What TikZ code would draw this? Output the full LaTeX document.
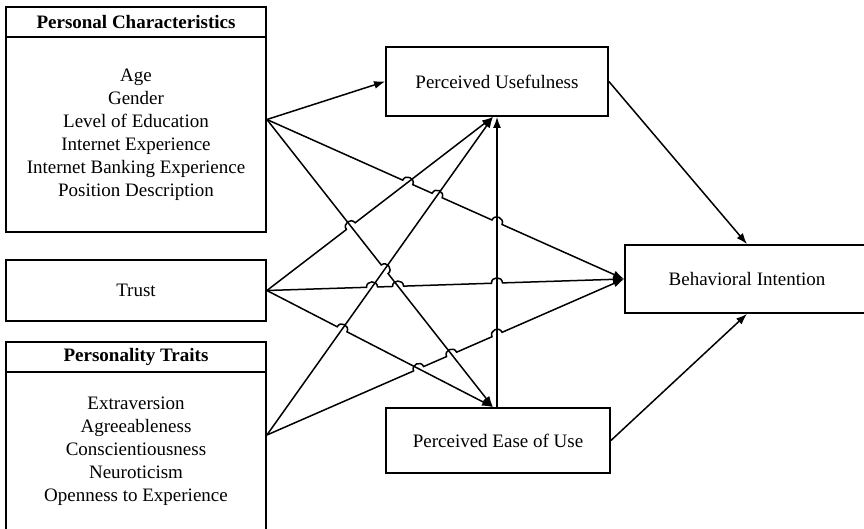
\documentclass[tikz,border=0pt]{standalone}
\usepackage{fontspec}
\setmainfont{Liberation Serif}
\usetikzlibrary{calc,arrows.meta}
\newcommand{\mkhop}[4]{%
  \coordinate (#1a) at ($(#2)!5.5pt!(#3)$);
  \coordinate (#1b) at ($(#2)!5.5pt!(#4)$);
  \coordinate (#1c) at ($(#1a)!7pt!90:(#1b)$);
  \coordinate (#1d) at ($(#1b)!7pt!-90:(#1a)$);
}
\begin{document}
\begin{tikzpicture}[x=1pt,y=-1pt,
  box/.style={draw, line width=1.8pt, inner sep=0pt, rectangle},
  txt/.style={font=\fontsize{19}{23}\selectfont, align=center, inner sep=0pt},
  ttl/.style={font=\fontsize{19}{23}\selectfont\bfseries, inner sep=0pt},
  conn/.style={line width=1.5pt, -{Latex[length=11pt,width=8pt]}},
]
\useasboundingbox (0,0) rectangle (864,529);
\clip (0,0) rectangle (864,529);

% left boxes
\node[box, minimum width=260pt, minimum height=225pt] (PC) at (136,119.5) {};
\node[box, ttl, minimum width=260pt, minimum height=30pt, anchor=north] (PCt) at (PC.north) {Personal Characteristics};
\node[txt] (PCb) at (136,135) {Age\\Gender\\Level of Education\\Internet Experience\\Internet Banking Experience\\Position Description};

\node[box, txt, minimum width=260pt, minimum height=61pt] (TR) at (136,290.5) {Trust};

\node[box, minimum width=260pt, minimum height=188pt] (PT) at (136,436) {};
\node[box, ttl, minimum width=260pt, minimum height=30pt, anchor=north] (PTt) at (PT.north) {Personality Traits};
\node[txt] (PTb) at (136,451.5) {Extraversion\\Agreeableness\\Conscientiousness\\Neuroticism\\Openness to Experience};

% middle and right boxes
\node[box, txt, minimum width=222pt, minimum height=69pt] (PU) at (497,81.5) {Perceived Usefulness};
\node[box, txt, minimum width=224pt, minimum height=65pt] (PE) at (498,440.5) {Perceived Ease of Use};
\node[box, txt, minimum width=244pt, minimum height=68pt] (BI) at (747,279) {Behavioral Intention};

% endpoints
\coordinate (pcS) at (PC.east);
\coordinate (trS) at (TR.east);
\coordinate (ptS) at ([yshift=1pt]PT.east);
\coordinate (puB) at ([xshift=-4pt]PU.south);
\coordinate (puS) at (PU.south);
\coordinate (peT) at ([xshift=-5pt]PE.north);
\coordinate (vB) at ([xshift=-1pt]PE.north);
\coordinate (biW) at (BI.west);

% crossings
\coordinate (x27) at (intersection of pcS--peT and ptS--puB);
\coordinate (x34) at (intersection of pcS--biW and trS--puB);
\coordinate (x37) at (intersection of pcS--biW and ptS--puB);
\coordinate (x3v) at (intersection of pcS--biW and vB--puS);
\coordinate (x42) at (intersection of trS--puB and pcS--peT);
\coordinate (x57) at (intersection of trS--biW and ptS--puB);
\coordinate (x52) at (intersection of trS--biW and pcS--peT);
\coordinate (x5v) at (intersection of trS--biW and vB--puS);
\coordinate (x67) at (intersection of trS--peT and ptS--puB);
\coordinate (x86) at (intersection of ptS--biW and trS--peT);
\coordinate (x82) at (intersection of ptS--biW and pcS--peT);
\coordinate (x8v) at (intersection of ptS--biW and vB--puS);

\mkhop{h27}{x27}{pcS}{peT}
\mkhop{h34}{x34}{pcS}{biW}
\mkhop{h37}{x37}{pcS}{biW}
\mkhop{h3v}{x3v}{pcS}{biW}
\mkhop{h42}{x42}{trS}{puB}
\mkhop{h57}{x57}{trS}{biW}
\mkhop{h52}{x52}{trS}{biW}
\mkhop{h5v}{x5v}{trS}{biW}
\mkhop{h67}{x67}{trS}{peT}
\mkhop{h86}{x86}{ptS}{biW}
\mkhop{h82}{x82}{ptS}{biW}
\mkhop{h8v}{x8v}{ptS}{biW}

% connectors
\draw[conn] (vB) -- (puS);
\draw[conn] (pcS) -- (PU.west);
\draw[conn] (pcS) -- (h27a) .. controls (h27c) and (h27d) .. (h27b) -- (peT);
\draw[conn] (pcS) -- (h34a) .. controls (h34c) and (h34d) .. (h34b)
  -- (h37a) .. controls (h37c) and (h37d) .. (h37b)
  -- (h3va) .. controls (h3vc) and (h3vd) .. (h3vb) -- (biW);
\draw[conn] (trS) -- (h42a) .. controls (h42c) and (h42d) .. (h42b) -- (puB);
\draw[conn] (trS) -- (h57a) .. controls (h57c) and (h57d) .. (h57b)
  -- (h52a) .. controls (h52c) and (h52d) .. (h52b)
  -- (h5va) .. controls (h5vc) and (h5vd) .. (h5vb) -- (biW);
\draw[conn] (trS) -- (h67a) .. controls (h67c) and (h67d) .. (h67b) -- (peT);
\draw[conn] (ptS) -- (puB);
\draw[conn] (ptS) -- (h86a) .. controls (h86c) and (h86d) .. (h86b)
  -- (h82a) .. controls (h82c) and (h82d) .. (h82b)
  -- (h8va) .. controls (h8vc) and (h8vd) .. (h8vb) -- (biW);
\draw[conn] (PU.east) -- (BI.north);
\draw[conn] (PE.east) -- (BI.south);
\end{tikzpicture}
\end{document}
